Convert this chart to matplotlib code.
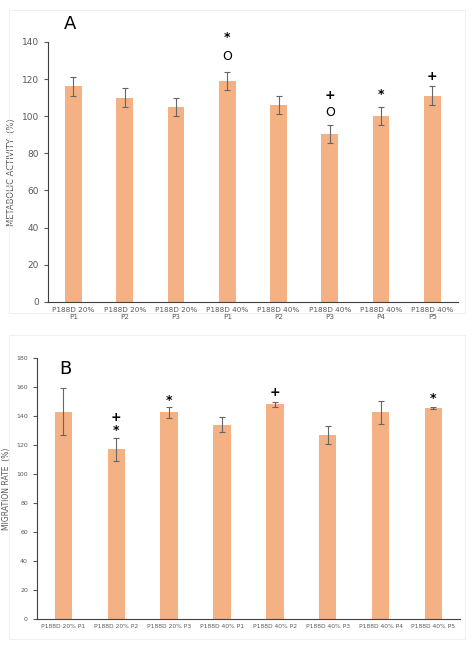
import matplotlib.pyplot as plt
from matplotlib.patches import Rectangle

labels_a = ["P188D 20%\nP1", "P188D 20%\nP2", "P188D 20%\nP3", "P188D 40%\nP1",
            "P188D 40%\nP2", "P188D 40%\nP3", "P188D 40%\nP4", "P188D 40%\nP5"]
vals_a = [116, 110, 105, 119, 106, 90.5, 100, 111]
err_a = [5, 5, 5, 5, 5, 5, 5, 5]
marks_a = [(3, "O", 132), (3, "*", 142.5), (5, "O", 102), (5, "+", 111), (6, "*", 111.5), (7, "+", 121.5)]

labels_b = ["P188D 20% P1", "P188D 20% P2", "P188D 20% P3", "P188D 40% P1",
            "P188D 40% P2", "P188D 40% P3", "P188D 40% P4", "P188D 40% P5"]
vals_b = [143, 117, 142.5, 134, 148, 127, 142.5, 145.5]
err_b = [16, 8, 4, 5, 2, 6, 8, 1]
marks_b = [(1, "*", 130), (1, "+", 139), (2, "*", 151), (4, "+", 156), (7, "*", 152)]

color = "#F4B183"
fig = plt.figure(figsize=(4.74, 6.45), dpi=100)
for r in [(0.02, 0.515, 0.96, 0.47), (0.02, 0.01, 0.96, 0.47)]:
    fig.patches.append(Rectangle(r[:2], r[2], r[3], transform=fig.transFigure,
                                 fill=False, ec="#ececec", lw=0.6))

def panel(rect, labels, vals, err, marks, ymax, step, ylabel, letter, fs_tick, fs_x, fs_lab, letter_pos):
    ax = fig.add_axes(rect)
    x = range(len(vals))
    ax.bar(x, vals, width=0.33, color=color, yerr=err, capsize=2,
           error_kw=dict(ecolor="#666666", elinewidth=0.8, capthick=0.8))
    ax.set_ylim(0, ymax)
    ax.set_yticks(range(0, ymax + 1, step))
    ax.set_xlim(-0.5, len(vals) - 0.5)
    ax.set_xticks(list(x))
    ax.set_xticklabels(labels, fontsize=fs_x, color="#595959")
    ax.tick_params(axis="y", labelsize=fs_tick, colors="#595959", length=3)
    ax.tick_params(axis="x", length=0)
    for s in ["top", "right"]:
        ax.spines[s].set_visible(False)
    for s in ["left", "bottom"]:
        ax.spines[s].set_color("#404040")
    ax.set_ylabel(ylabel, fontsize=fs_lab, color="#595959")
    for i, m, y in marks:
        ax.text(i, y, m, ha="center", va="center", fontsize=9,
                fontweight="normal" if m == "O" else "bold")
    fig.text(letter_pos[0], letter_pos[1], letter, fontsize=13)
    return ax

panel([0.101, 0.532, 0.865, 0.403], labels_a, vals_a, err_a, marks_a, 140, 20,
      "METABOLIC ACTIVITY  (%)", "A", 6.5, 5.2, 6, (0.135, 0.955))
panel([0.078, 0.040, 0.892, 0.405], labels_b, vals_b, err_b, marks_b, 180, 20,
      "MIGRATION RATE  (%)", "B", 4.5, 4.3, 5.5, (0.125, 0.42))
fig.savefig("out.png", dpi=100)
